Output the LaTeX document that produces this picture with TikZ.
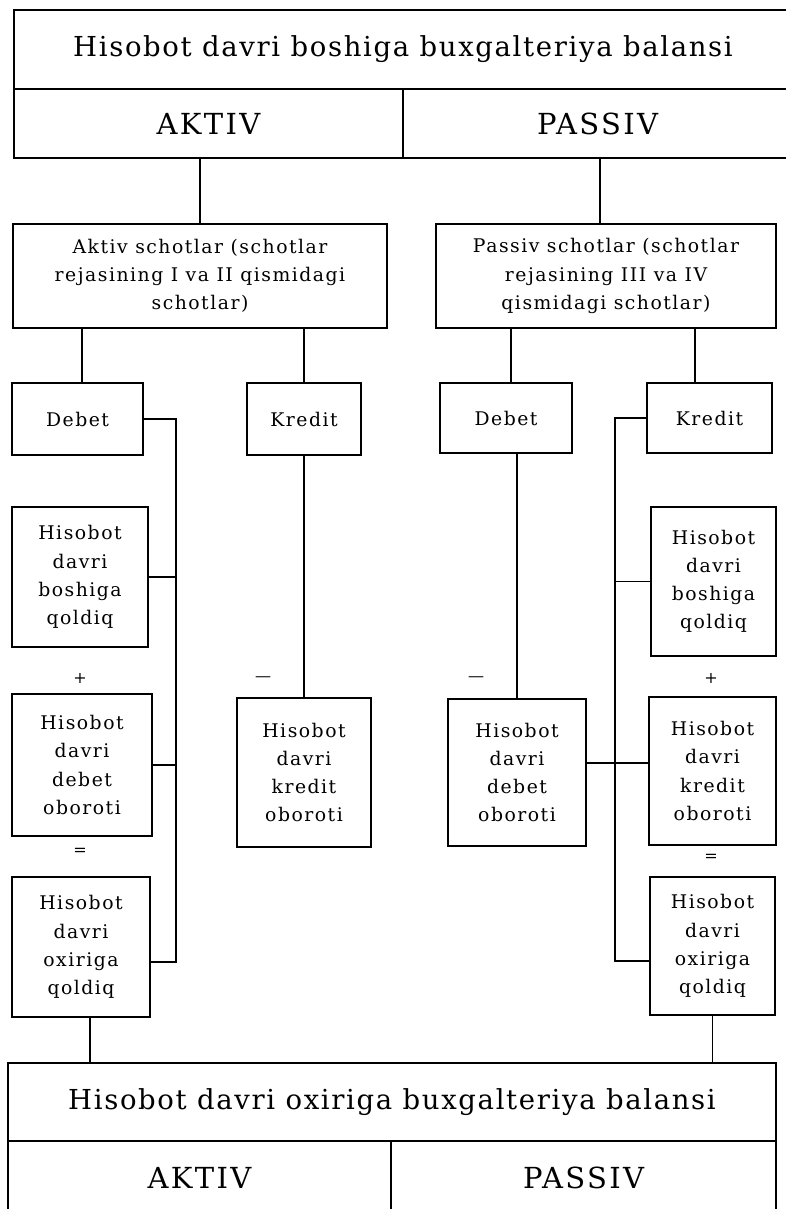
\documentclass[tikz,border=0pt]{standalone}
\usepackage{fontspec}
\setmainfont{DejaVu Serif}[LetterSpace=8]
\usetikzlibrary{positioning}

\begin{document}
\begin{tikzpicture}[
  x=1pt, y=-1pt,
  line width=1.7pt,
  blok/.style={
    draw,
    inner sep=0pt,
    align=center,
    font=\fontsize{18.8}{28.2}\selectfont,
  },
  balans/.style={
    draw,
    inner sep=0pt,
    align=center,
    font=\fontsize{27.5}{32}\selectfont\addfontfeatures{LetterSpace=6},
  },
  katta/.style={
    balans,
    font=\fontsize{29}{34}\selectfont,
  },
  belgi/.style={
    inner sep=0pt,
    font=\fontsize{16}{18}\selectfont,
  },
]

  \useasboundingbox (0,0) rectangle (785,1209);

  % davr boshidagi balans
  \node[balans, minimum width=778, minimum height=79] (tit1) at (403,49.5)
    {Hisobot davri boshiga buxgalteriya balansi};
  \node[katta, minimum width=389, minimum height=69] (akt1) at (208.5,123.5) {AKTIV};
  \node[katta, minimum width=389, minimum height=69] (pas1) at (597.5,123.5) {PASSIV};

  % schotlar
  \node[blok, minimum width=374, minimum height=104] (asch) at (200,276)
    {Aktiv schotlar (schotlar\\ rejasining I va II qismidagi\\ schotlar)};
  \node[blok, minimum width=340, minimum height=104] (psch) at (606,276)
    {Passiv schotlar (schotlar\\ rejasining III va IV\\ qismidagi schotlar)};

  \node[blok, minimum width=131, minimum height=72] (adeb) at (77.5,419) {Debet};
  \node[blok, minimum width=114, minimum height=72] (akr) at (304,419) {Kredit};
  \node[blok, minimum width=132, minimum height=70] (pdeb) at (506,418) {Debet};
  \node[blok, minimum width=125, minimum height=70] (pkr) at (709.5,418) {Kredit};

  % aktiv schot
  \node[blok, minimum width=136, minimum height=140] (ab1) at (80,577)
    {Hisobot\\ davri\\ boshiga\\ qoldiq};
  \node[belgi] (aplus) at (80,678) {+};
  \node[blok, minimum width=140, minimum height=142] (ab2) at (82,765)
    {Hisobot\\ davri\\ debet\\ oboroti};
  \node[belgi] (ateng) at (80,852) {=};
  \node[blok, minimum width=138, minimum height=140] (ab3) at (81,947)
    {Hisobot\\ davri\\ oxiriga\\ qoldiq};
  \node[belgi] (aminus) at (263,679) {---};
  \node[blok, minimum width=134, minimum height=149] (akob) at (304,772.5)
    {Hisobot\\ davri\\ kredit\\ oboroti};

  % passiv schot
  \node[belgi] (pminus) at (476,679) {---};
  \node[blok, minimum width=138, minimum height=147] (pdob) at (517,772.5)
    {Hisobot\\ davri\\ debet\\ oboroti};
  \node[blok, minimum width=125, minimum height=149] (pb1) at (713.5,581.5)
    {Hisobot\\ davri\\ boshiga\\ qoldiq};
  \node[belgi] (pplus) at (711,678) {+};
  \node[blok, minimum width=127, minimum height=148] (pb2) at (712.5,771)
    {Hisobot\\ davri\\ kredit\\ oboroti};
  \node[belgi] (peng) at (711,858) {=};
  \node[blok, minimum width=125, minimum height=138] (pb3) at (712.5,946)
    {Hisobot\\ davri\\ oxiriga\\ qoldiq};

  % davr oxiridagi balans
  \node[balans, minimum width=768, minimum height=78] (tit2) at (392,1102)
    {Hisobot davri oxiriga buxgalteriya balansi};
  \node[katta, minimum width=383, minimum height=74] (akt2) at (199.5,1178) {AKTIV};
  \node[katta, minimum width=385, minimum height=74] (pas2) at (583.5,1178) {PASSIV};

  % chiziqlar
  \coordinate (xp) at (600,0);
  \coordinate (xa) at (82,0);
  \coordinate (xpd) at (511,0);
  \coordinate (xpk) at (695,0);
  \coordinate (xb) at (90,0);
  \coordinate (lend) at (176,962);
  \coordinate (rend) at (615,961);
  \coordinate (rmid) at (615,763);

  \draw (asch.north) -- (asch.north |- akt1.south);
  \draw (xp |- pas1.south) -- (xp |- psch.north);
  \draw (xa |- asch.south) -- (xa |- adeb.north);
  \draw (akr.north |- asch.south) -- (akr.north);
  \draw (xpd |- psch.south) -- (xpd |- pdeb.north);
  \draw (xpk |- psch.south) -- (xpk |- pkr.north);

  \draw (adeb.east) -| (lend) -- (lend -| ab3.east);
  \draw (ab1.east) -- (ab1.east -| lend);
  \draw (ab2.east) -- (ab2.east -| lend);
  \draw (akr.south) -- (akr.south |- akob.north);

  \draw (pkr.west) -| (rend) -- (rend -| pb3.west);
  \draw (pb1.west) -- (pb1.west -| rend);
  \draw (rmid -| pdob.east) -- (rmid -| pb2.west);
  \draw (pdob.north) -- (pdob.north |- pdeb.south);

  \draw (xb |- ab3.south) -- (xb |- tit2.north);
  \draw (pb3.south) -- (pb3.south |- tit2.north);

\end{tikzpicture}
\end{document}
